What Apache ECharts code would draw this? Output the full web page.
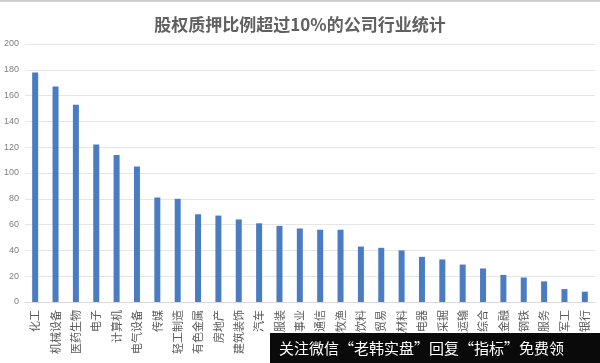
<!DOCTYPE html>
<html>
<head>
<meta charset="utf-8">
<script src="https://cdn.jsdelivr.net/npm/echarts@6/dist/echarts.min.js"></script>
<style>html,body{margin:0;padding:0;background:#fff;}#c{width:600px;height:363px;}</style>
</head>
<body>
<div id="c"></div>
<script>
const titleText = '股权质押比例超过10%的公司行业统计';
const categories = ['化工','机械设备','医药生物','电子','计算机','电气设备','传媒','轻工制造','有色金属','房地产','建筑装饰','汽车','纺织服装','公用事业','通信','农林牧渔','食品饮料','商业贸易','建筑材料','家用电器','采掘','交通运输','综合','非银金融','钢铁','休闲服务','国防军工','银行'];
const values = [178,167,153,122,114,105,81,80,68,67,64,61,59,57,56,56,43,42,40,35,33,29,26,21,19,16,10,8];
const yTicks = [0,20,40,60,80,100,120,140,160,180,200];
const watermark = '关注微信“老韩实盘”回复“指标”免费领';

const chart = echarts.init(document.getElementById('c'));
chart.setOption({
  animation: false,
  backgroundColor: '#fff',
  title: {
    text: titleText, left: 'center', top: 11,
    textStyle: {fontSize: 17, fontWeight: 'bold', color: '#606060', fontFamily: 'Noto Sans CJK SC'}
  },
  grid: {left: 25, right: 5, top: 44, bottom: 61, containLabel: false},
  xAxis: {
    type: 'category', data: categories,
    axisLine: {lineStyle: {color: '#d9d9d9'}},
    axisTick: {show: false},
    axisLabel: {rotate: 90, interval: 0, fontSize: 11, color: '#595959', margin: 8, fontFamily: 'Noto Sans CJK SC'}
  },
  yAxis: {
    type: 'value', min: yTicks[0], max: yTicks[yTicks.length-1], interval: 20,
    axisLine: {show: false}, axisTick: {show: false},
    splitLine: {lineStyle: {color: '#e6e6e6'}},
    axisLabel: {fontSize: 9, color: '#7f7f7f', margin: 6}
  },
  series: [{type: 'bar', data: values, barWidth: 6, itemStyle: {color: '#4a7cc4'}}],
  graphic: [
    {type: 'rect', shape: {x: 0, y: 0, width: 600, height: 2}, style: {fill: '#d0d0d0'}},
    {type: 'rect', shape: {x: 270, y: 333, width: 330, height: 30}, style: {fill: '#0a0a0a'}, z: 100},
    {type: 'text', x: 279, y: 348, style: {text: watermark, fill: '#fff', fontSize: 15, fontFamily: 'Noto Sans CJK SC', verticalAlign: 'middle'}, z: 101}
  ]
});
</script>
</body>
</html>
